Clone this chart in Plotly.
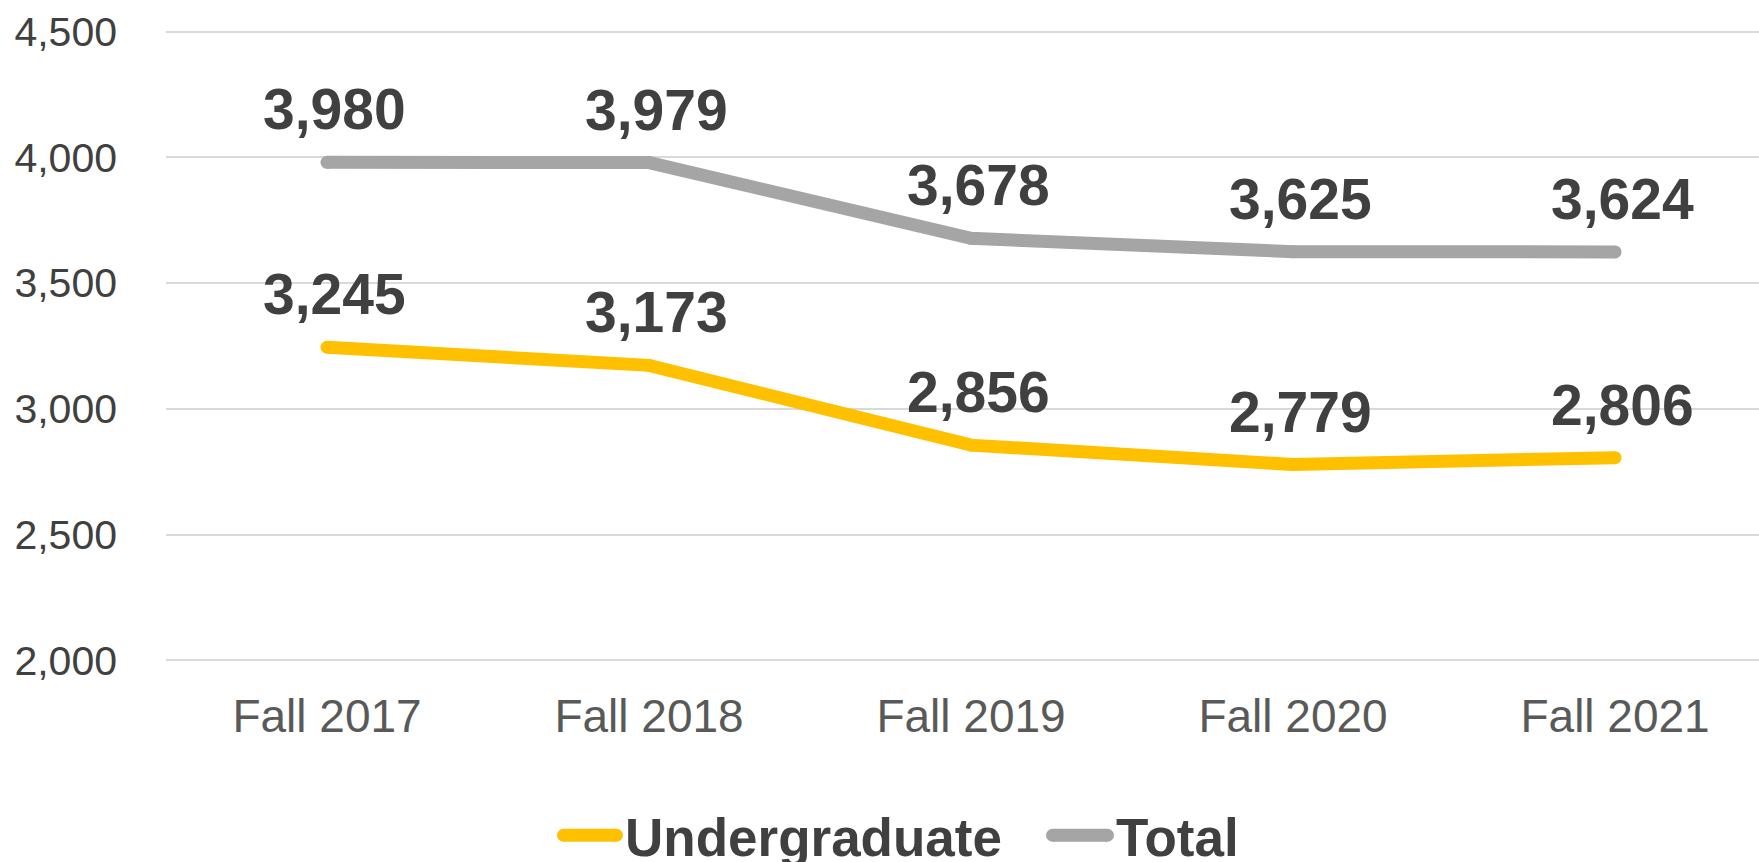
import plotly.graph_objects as go

categories = ["Fall 2017", "Fall 2018", "Fall 2019", "Fall 2020", "Fall 2021"]
undergrad = [3245, 3173, 2856, 2779, 2806]
total = [3980, 3979, 3678, 3625, 3624]
series_names = ["Undergraduate", "Total"]

YELLOW = "#FFC000"
GRAY = "#A5A5A5"
TEXT = "#404040"
FONT = "Liberation Sans, Arial, sans-serif"

W, H = 1759, 862
ML, MR, MT, MB = 166, 0, 28.5, 198.5

fig = go.Figure()
for name, vals, col in zip(series_names, (undergrad, total), (YELLOW, GRAY)):
    fig.add_trace(go.Scatter(
        x=categories, y=vals, name=name, mode="lines", showlegend=False,
        line=dict(color=col, width=13), cliponaxis=False,
    ))
    # round caps at the line ends / joints
    fig.add_trace(go.Scatter(
        x=categories, y=vals, mode="markers", showlegend=False, hoverinfo="skip",
        marker=dict(color=col, size=13, line=dict(width=0)), cliponaxis=False,
    ))

for series in (undergrad, total):
    for c, v in zip(categories, series):
        fig.add_annotation(
            x=c, y=v, text=f"{v:,}", showarrow=False, yshift=53, xshift=7,
            xanchor="center", yanchor="middle",
            font=dict(family=FONT, size=57, color=TEXT, weight="bold"),
        )

# custom legend (thick rounded line samples + bold labels)
def px_x(p):
    return (p - ML) / (W - ML - MR)

def px_y(p):
    return (H - MB - p) / (H - MT - MB)

legend_items = [(series_names[0], YELLOW, 557, 623, 623), (series_names[1], GRAY, 1046, 1114, 1114)]
ly = 836
for label, col, x0, x1, tx in legend_items:
    fig.add_shape(type="line", xref="paper", yref="paper",
                  x0=px_x(x0 + 6.5), x1=px_x(x1 - 6.5), y0=px_y(ly), y1=px_y(ly),
                  line=dict(color=col, width=13))
    for cx in (x0 + 6.5, x1 - 6.5):
        fig.add_shape(type="circle", xref="paper", yref="paper",
                      xsizemode="pixel", ysizemode="pixel",
                      xanchor=px_x(cx), yanchor=px_y(ly),
                      x0=-6.5, x1=6.5, y0=-6.5, y1=6.5,
                      fillcolor=col, line=dict(width=0))
    fig.add_annotation(xref="paper", yref="paper", x=px_x(tx), y=px_y(ly + 2),
                       text=label, showarrow=False, xanchor="left", yanchor="middle",
                       font=dict(family=FONT, size=53, color=TEXT, weight="bold"))

fig.update_layout(
    width=W, height=H,
    margin=dict(l=ML, r=MR, t=MT, b=MB),
    paper_bgcolor="white", plot_bgcolor="white",
    font=dict(family=FONT, color=TEXT),
    showlegend=False,
    xaxis=dict(
        type="category", range=[-0.5, 4.447], showgrid=False, zeroline=False,
        showline=False, ticks="", tickfont=dict(family=FONT, size=46, color="#595959"),
        ticklabelstandoff=22, automargin=False,
    ),
    yaxis=dict(
        range=[1990, 4510], dtick=500, tickformat=",", showgrid=True,
        gridcolor="#D9D9D9", gridwidth=2, zeroline=False, showline=False, ticks="",
        tickfont=dict(family=FONT, size=41, color=TEXT), ticklabelstandoff=48,
        automargin=False,
    ),
)

fig.write_html("out.html", config={"displayModeBar": False},
               post_script="document.body.style.margin='0';document.body.style.padding='0';")
